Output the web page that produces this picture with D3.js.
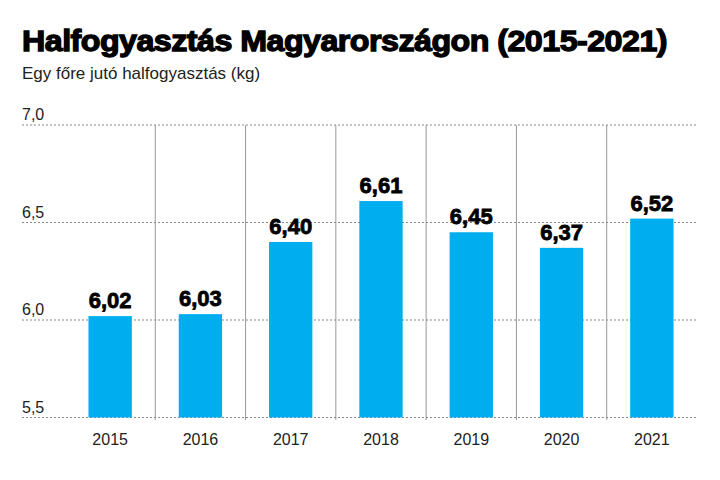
<!DOCTYPE html>
<html><head><meta charset="utf-8">
<script src="https://cdn.jsdelivr.net/npm/d3@7"></script>
<style>body{margin:0;background:#fff}</style></head>
<body><svg id="c" width="720" height="480"></svg>
<script>
const years = ["2015","2016","2017","2018","2019","2020","2021"];
const values = [6.02,6.03,6.40,6.61,6.45,6.37,6.52];
const yTicks = [5.5,6.0,6.5,7.0];
const svg = d3.select("#c");
const font = "'Liberation Sans', Arial, sans-serif";
svg.append("text").attr("x",22).attr("y",51).text("Halfogyasztás Magyarországon (2015-2021)")
  .attr("font-family",font).attr("font-weight",900).attr("font-size",30).attr("fill","#000")
  .attr("letter-spacing",-0.5).attr("stroke","#000").attr("stroke-width",1.3)
  .attr("textLength",645).attr("lengthAdjust","spacingAndGlyphs");
svg.append("text").attr("x",22).attr("y",79).text("Egy főre jutó halfogyasztás (kg)")
  .attr("font-family",font).attr("font-size",17).attr("fill","#222");
const x = d3.scaleBand().domain(years).range([65,697]).paddingInner(0.52).paddingOuter(0.26);
const y = d3.scaleLinear().domain([5.5,7.0]).range([417.5,125]);
svg.append("g").selectAll("line").data(years.slice(1)).join("line")
  .attr("x1",d=>x(d)-x.step()*x.paddingInner()/2).attr("x2",d=>x(d)-x.step()*x.paddingInner()/2)
  .attr("y1",y(7.0)).attr("y2",420).attr("stroke","#999").attr("stroke-width",1);
const g = svg.append("g");
g.selectAll("line").data(yTicks).join("line")
  .attr("x1",22).attr("x2",697).attr("y1",d=>y(d)).attr("y2",d=>y(d))
  .attr("stroke","#888").attr("stroke-width",1).attr("stroke-dasharray","2,2");
g.selectAll("text").data(yTicks).join("text")
  .attr("x",22).attr("y",d=>y(d)-5).text(d=>d3.format(".1f")(d).replace(".",","))
  .attr("font-family",font).attr("font-size",16).attr("fill","#222");
svg.append("g").selectAll("rect").data(values).join("rect")
  .attr("x",(d,i)=>x(years[i])).attr("width",x.bandwidth())
  .attr("y",d=>y(d)).attr("height",d=>y(5.5)-y(d)).attr("fill","#00AEEF");
svg.append("g").selectAll("text").data(values).join("text")
  .attr("x",(d,i)=>x(years[i])+x.bandwidth()/2).attr("y",d=>y(d)-8)
  .attr("text-anchor","middle").text(d=>d3.format(".2f")(d).replace(".",","))
  .attr("font-family",font).attr("font-weight",900).attr("font-size",22).attr("fill","#000")
  .attr("stroke","#000").attr("stroke-width",0.8);
svg.append("g").selectAll("text").data(years).join("text")
  .attr("x",d=>x(d)+x.bandwidth()/2).attr("y",445).attr("text-anchor","middle").text(d=>d)
  .attr("font-family",font).attr("font-size",16).attr("fill","#222");
</script></body></html>
